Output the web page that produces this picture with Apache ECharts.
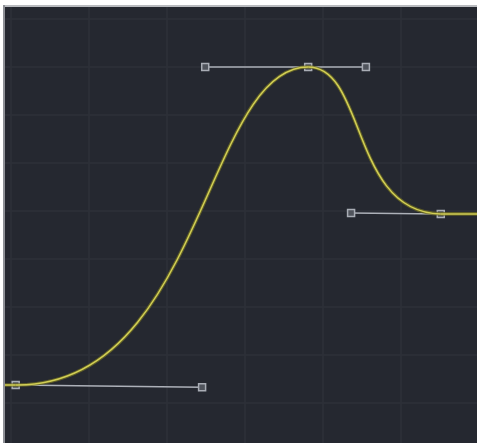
<!DOCTYPE html>
<html>
<head>
<meta charset="utf-8">
<script src="https://cdn.jsdelivr.net/npm/echarts@6/dist/echarts.min.js"></script>
<style>
html,body{margin:0;padding:0;background:#fff;}
#main{width:477px;height:443px;}
</style>
</head>
<body>
<div id="main"></div>
<script>
// Keyframes (time, value)
const keyTimes = [10.6, 48.1, 65.1];
const keyValues = [0.1375, 0.8, 0.494];
// Bezier handles (null = none)
const outHandleTimes = [34.5, 55.5, null];
const outHandleValues = [0.133, 0.8, null];
const inHandleTimes = [null, 34.9, 53.6];
const inHandleValues = [null, 0.8, 0.496];
// Axis extents
const timeRange = [0, 70];
const valueRange = [0, 1];

const chart = echarts.init(document.getElementById('main'), null, {renderer: 'canvas'});

function renderCurve(params, api) {
  const children = [];
  const n = keyTimes.length;
  const p = i => api.coord([keyTimes[i], keyValues[i]]);
  const o = i => api.coord([outHandleTimes[i], outHandleValues[i]]);
  const h = i => api.coord([inHandleTimes[i], inHandleValues[i]]);
  const leftPt = api.coord([timeRange[0], keyValues[0]]);
  const rightPt = api.coord([timeRange[1], keyValues[n - 1]]);
  const layers = [
    {stroke: 'rgba(110,108,36,0.8)', lineWidth: 3.6},
    {stroke: '#d2cf55', lineWidth: 1.5}
  ];
  layers.forEach(st => {
    children.push({type: 'line', shape: {x1: leftPt[0], y1: leftPt[1], x2: p(0)[0], y2: p(0)[1]}, style: {stroke: st.stroke, lineWidth: st.lineWidth}});
    for (let i = 0; i < n - 1; i++) {
      const a = p(i), c1 = o(i), c2 = h(i + 1), b = p(i + 1);
      children.push({type: 'bezierCurve', shape: {x1: a[0], y1: a[1], cpx1: c1[0], cpy1: c1[1], cpx2: c2[0], cpy2: c2[1], x2: b[0], y2: b[1]}, style: {stroke: st.stroke, lineWidth: st.lineWidth, fill: null}});
    }
    children.push({type: 'line', shape: {x1: p(n - 1)[0], y1: p(n - 1)[1], x2: rightPt[0], y2: rightPt[1]}, style: {stroke: st.stroke, lineWidth: st.lineWidth}});
  });
  return {type: 'group', children: children};
}

function square(pt) {
  return {type: 'rect', shape: {x: pt[0] - 3.5, y: pt[1] - 3.5, width: 7, height: 7}, style: {fill: '#50545c', stroke: '#a9adb5', lineWidth: 1.5}};
}

function renderHandles(params, api) {
  const children = [];
  const n = keyTimes.length;
  for (let i = 0; i < n; i++) {
    const k = api.coord([keyTimes[i], keyValues[i]]);
    [[inHandleTimes[i], inHandleValues[i]], [outHandleTimes[i], outHandleValues[i]]].forEach(hv => {
      if (hv[0] === null) return;
      const c = api.coord(hv);
      children.push({type: 'line', shape: {x1: k[0], y1: k[1], x2: c[0], y2: c[1]}, style: {stroke: '#adb1b9', lineWidth: 1.5}});
      children.push(square(c));
    });
  }
  for (let i = 0; i < n; i++) {
    children.push(square(api.coord([keyTimes[i], keyValues[i]])));
  }
  return {type: 'group', children: children};
}

chart.setOption({
  backgroundColor: '#252830',
  animation: false,
  grid: {left: -67, right: -2, top: -29, bottom: -8, containLabel: false, outerBoundsMode: 'none'},
  xAxis: {
    type: 'value', min: timeRange[0], max: timeRange[1], interval: 10,
    axisLine: {show: false}, axisTick: {show: false}, axisLabel: {show: false},
    splitLine: {show: true, lineStyle: {color: '#2e3139', width: 1.5}}
  },
  yAxis: {
    type: 'value', min: valueRange[0], max: valueRange[1], interval: 0.1,
    axisLine: {show: false}, axisTick: {show: false}, axisLabel: {show: false},
    splitLine: {show: true, lineStyle: {color: '#2e3139', width: 1.5}}
  },
  series: [
    {type: 'custom', renderItem: renderHandles, data: [[0, 0]], z: 2, silent: true, clip: false},
    {type: 'custom', renderItem: renderCurve, data: [[0, 0]], z: 3, silent: true, clip: false}
  ],
  graphic: [
    {type: 'rect', z: 100, shape: {x: 0, y: 0, width: 477, height: 5}, style: {fill: '#ffffff'}},
    {type: 'rect', z: 100, shape: {x: 0, y: 0, width: 3, height: 443}, style: {fill: '#ffffff'}},
    {type: 'rect', z: 101, shape: {x: 3, y: 5, width: 474, height: 2}, style: {fill: '#b9bbbf'}},
    {type: 'rect', z: 101, shape: {x: 3, y: 5, width: 2, height: 438}, style: {fill: '#8e9096'}}
  ]
});
</script>
</body>
</html>
